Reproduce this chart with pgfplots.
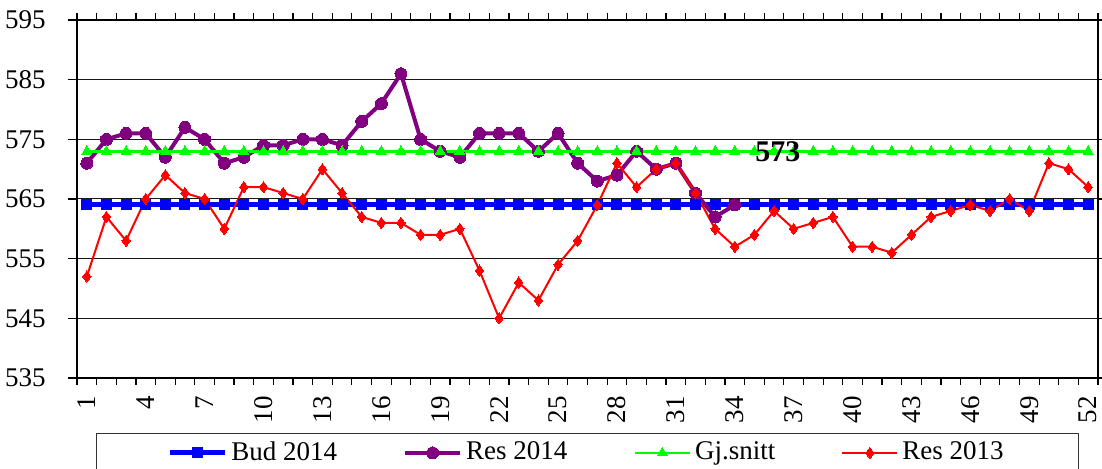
\documentclass[border=0pt]{standalone}
\usepackage{pgfplots}
\pgfplotsset{compat=1.18}
\usepackage{fontspec}
\setmainfont{Liberation Serif}
\definecolor{budblue}{RGB}{0,0,255}
\definecolor{respurple}{RGB}{128,0,128}
\definecolor{gjgreen}{RGB}{0,255,0}
\definecolor{resred}{RGB}{255,0,0}
\begin{document}
\fontsize{13.5}{15}\selectfont
\begin{tikzpicture}
\path[use as bounding box] (-38.5pt,-45.5pt) rectangle (512.5pt,189pt);
\begin{axis}[
  at={(0,0)}, anchor=south west,
  scale only axis,
  width=510.5pt, height=179pt,
  xmin=0.5, xmax=52.5,
  ymin=535, ymax=595,
  ytick={535,545,...,595},
  xtick={1,4,...,52},
  minor xtick={0.5,1.5,...,52.5},
  every major x tick/.style={draw=none},
  tick align=outside,
  major tick length=4.5pt,
  minor tick length=3.5pt,
  tick style={black, line width=0.6pt},
  ymajorgrids,
  major grid style={black!90, line width=0.5pt},
  axis line style={black, line width=1.1pt},
  xticklabel style={rotate=90, anchor=east, font=\fontsize{13.5}{15}\selectfont},
  yticklabel style={font=\fontsize{13.5}{15}\selectfont, xshift=-6.5pt},
  /pgf/number format/assume math mode=true,
  clip=false,
  legend columns=4,
  legend style={at={(axis description cs:0.5,-0.1536)}, anchor=north,
    draw=black!80, line width=0.6pt, inner xsep=35.5pt, inner ysep=2pt,
    font=\fontsize{13.5}{15}\selectfont,
    /tikz/every even column/.append style={column sep=31pt}},
  legend image code/.code={\draw[mark repeat=2,mark phase=2] plot coordinates {(0pt,0pt)(13.75pt,0pt)(27.5pt,0pt)};},
]
\addplot[budblue, line width=2.5pt, mark=square*, mark size=2.5pt, mark options={solid, line width=0pt}]
 coordinates {(1,564)(2,564)(3,564)(4,564)(5,564)(6,564)(7,564)(8,564)(9,564)(10,564)(11,564)(12,564)(13,564)(14,564)(15,564)(16,564)(17,564)(18,564)(19,564)(20,564)(21,564)(22,564)(23,564)(24,564)(25,564)(26,564)(27,564)(28,564)(29,564)(30,564)(31,564)(32,564)(33,564)(34,564)(35,564)(36,564)(37,564)(38,564)(39,564)(40,564)(41,564)(42,564)(43,564)(44,564)(45,564)(46,564)(47,564)(48,564)(49,564)(50,564)(51,564)(52,564)};
\addlegendentry{Bud 2014}
\addplot[respurple, line width=2pt, mark=*, mark size=3pt, mark options={solid, line width=0pt}]
 coordinates {(1,571)(2,575)(3,576)(4,576)(5,572)(6,577)(7,575)(8,571)(9,572)(10,574)(11,574)(12,575)(13,575)(14,574)(15,578)(16,581)(17,586)(18,575)(19,573)(20,572)(21,576)(22,576)(23,576)(24,573)(25,576)(26,571)(27,568)(28,569)(29,573)(30,570)(31,571)(32,566)(33,562)(34,564)};
\addlegendentry{Res 2014}
\addplot[gjgreen, line width=1.4pt, mark=triangle*, mark size=2.9pt, mark options={solid, line width=0pt}]
 coordinates {(1,573)(2,573)(3,573)(4,573)(5,573)(6,573)(7,573)(8,573)(9,573)(10,573)(11,573)(12,573)(13,573)(14,573)(15,573)(16,573)(17,573)(18,573)(19,573)(20,573)(21,573)(22,573)(23,573)(24,573)(25,573)(26,573)(27,573)(28,573)(29,573)(30,573)(31,573)(32,573)(33,573)(34,573)(35,573)(36,573)(37,573)(38,573)(39,573)(40,573)(41,573)(42,573)(43,573)(44,573)(45,573)(46,573)(47,573)(48,573)(49,573)(50,573)(51,573)(52,573)};
\addlegendentry{Gj.snitt}
\addplot[resred, line width=1pt, mark=diamond*, mark size=2.8pt, mark options={solid, line width=0pt}]
 coordinates {(1,552)(2,562)(3,558)(4,565)(5,569)(6,566)(7,565)(8,560)(9,567)(10,567)(11,566)(12,565)(13,570)(14,566)(15,562)(16,561)(17,561)(18,559)(19,559)(20,560)(21,553)(22,545)(23,551)(24,548)(25,554)(26,558)(27,564)(28,571)(29,567)(30,570)(31,571)(32,566)(33,560)(34,557)(35,559)(36,563)(37,560)(38,561)(39,562)(40,557)(41,557)(42,556)(43,559)(44,562)(45,563)(46,564)(47,563)(48,565)(49,563)(50,571)(51,570)(52,567)};
\addlegendentry{Res 2013}
\coordinate (lbl) at (axis cs:36.2,573);
\end{axis}
\node[font=\fontsize{15}{17}\selectfont\bfseries] at (lbl) {573};
\end{tikzpicture}
\end{document}
